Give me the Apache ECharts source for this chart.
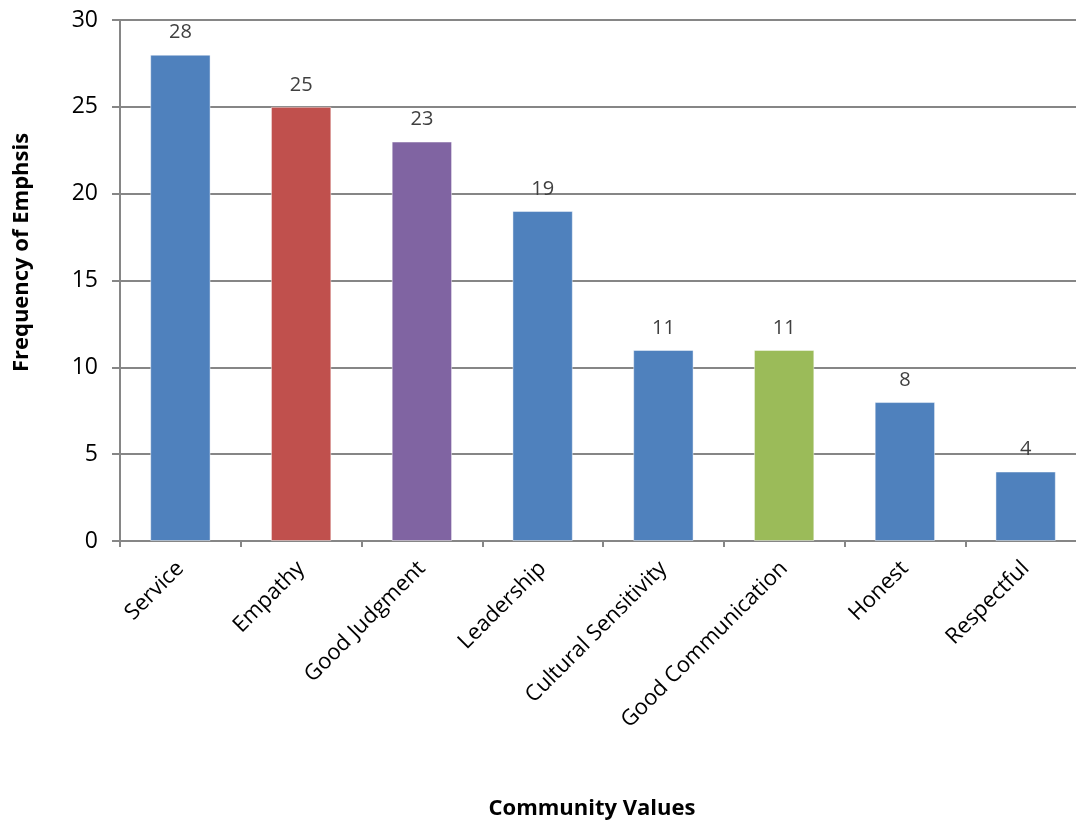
<!DOCTYPE html>
<html>
<head>
<meta charset="utf-8">
<script src="https://cdn.jsdelivr.net/npm/echarts@6/dist/echarts.min.js"></script>
<style>
  html, body { margin: 0; padding: 0; background: #fff; }
  #chart { width: 1076px; height: 828px; }
</style>
</head>
<body>
<div id="chart"></div>
<script>
const categories = ["Service", "Empathy", "Good Judgment", "Leadership", "Cultural Sensitivity", "Good Communication", "Honest", "Respectful"];
const values = [28, 25, 23, 19, 11, 11, 8, 4];
const barColors = ["#4F81BD", "#C0504D", "#8064A2", "#4F81BD", "#4F81BD", "#9BBB59", "#4F81BD", "#4F81BD"];
const yTicks = [0, 5, 10, 15, 20, 25, 30];

const font = "'Open Sans', 'DejaVu Sans', sans-serif";
const chart = echarts.init(document.getElementById("chart"));

chart.setOption({
  animation: false,
  textStyle: { fontFamily: font },
  // plot runs past the right edge of the picture, as in the original
  grid: { left: 120, width: 966, top: 20, bottom: 287, outerBoundsMode: "none", containLabel: false },
  xAxis: {
    type: "category",
    data: categories,
    name: "Community Values",
    nameLocation: "middle",
    nameGap: 257,
    nameTextStyle: { fontSize: 22, fontWeight: "bold", color: "#000", fontFamily: font, padding: [0, 22, 0, 0] },
    axisLine: { lineStyle: { color: "#868686", width: 2 } },
    axisTick: { show: true, length: 6, lineStyle: { color: "#868686", width: 2 } },
    axisLabel: { rotate: 45, fontSize: 22, color: "#000", margin: 24, fontFamily: font },
    splitLine: { show: false }
  },
  yAxis: {
    type: "value",
    min: yTicks[0],
    max: yTicks[yTicks.length - 1],
    interval: 5,
    name: "Frequency of Emphsis",
    nameLocation: "middle",
    nameGap: 87,
    nameTextStyle: { fontSize: 22, fontWeight: "bold", color: "#000", fontFamily: font, padding: [0, 0, 0, 56] },
    axisLine: { show: true, lineStyle: { color: "#868686", width: 2 } },
    axisTick: { show: true, length: 8, lineStyle: { color: "#868686", width: 2 } },
    axisLabel: { fontSize: 23, color: "#000", margin: 22, fontFamily: font },
    splitLine: { lineStyle: { color: "#868686", width: 2 } }
  },
  series: [{
    type: "bar",
    barWidth: "50%",
    data: values.map((v, i) => ({
      value: v,
      itemStyle: { color: barColors[i], borderColor: "rgba(255,255,255,0.45)", borderWidth: 1 }
    })),
    label: {
      show: true,
      position: "top",
      distance: 12,
      fontSize: 20,
      color: "#404040",
      fontFamily: font
    }
  }]
});
</script>
</body>
</html>
